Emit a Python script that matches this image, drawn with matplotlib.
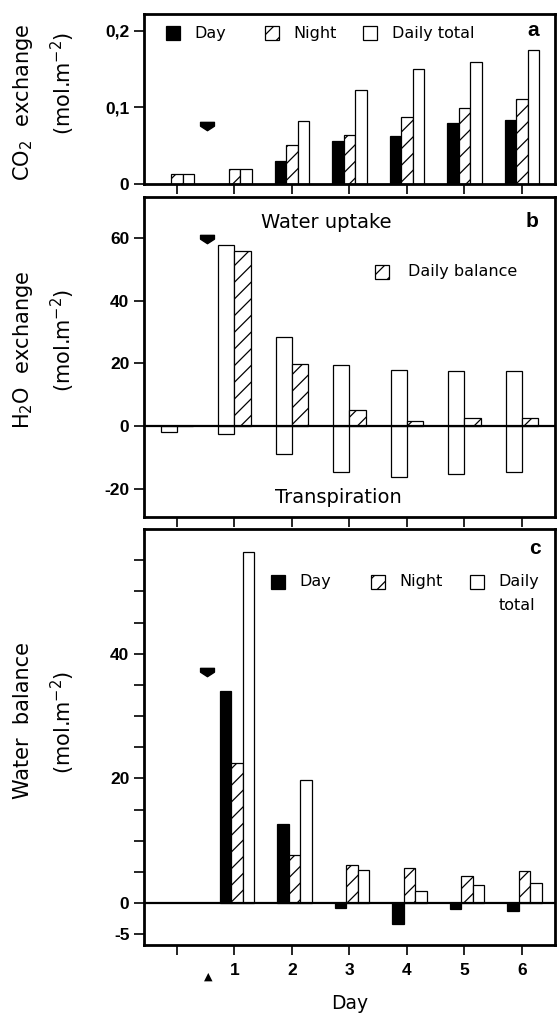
import matplotlib
matplotlib.use('Agg')
import matplotlib.pyplot as plt
import numpy as np
from matplotlib.path import Path
from matplotlib.patches import Rectangle

plt.rcParams['font.family'] = ['Liberation Sans', 'DejaVu Sans']
plt.rcParams['hatch.linewidth'] = 0.9
plt.rcParams['mathtext.default'] = 'regular'

# ---------------- data ----------------
days_a = np.array([0, 1, 2, 3, 4, 5, 6])
co2_day = [0.0, 0.0, 0.030, 0.056, 0.063, 0.080, 0.084]
co2_night = [0.013, 0.019, 0.051, 0.064, 0.087, 0.099, 0.111]
co2_total = [0.013, 0.019, 0.082, 0.123, 0.150, 0.159, 0.175]

days_b = np.array([0, 1, 2, 3, 4, 5, 6])
h2o_uptake = [0.0, 58.0, 28.5, 19.4, 17.8, 17.7, 17.5]
h2o_transp = [-2.0, -2.6, -8.8, -14.6, -16.2, -15.4, -14.6]
h2o_balance = [0.0, 56.0, 19.9, 5.0, 1.6, 2.7, 2.7]

days_c = np.array([1, 2, 3, 4, 5, 6])
wb_day = [34.1, 12.7, -0.7, -3.3, -1.0, -1.3]
wb_night = [22.5, 7.8, 6.2, 5.7, 4.3, 5.1]
wb_total = [56.3, 19.7, 5.4, 1.9, 2.9, 3.2]

event_day = 0.52
event_marks = [0.077, 60.0, 37.3]

day_ticks = [0, 1, 2, 3, 4, 5, 6]
day_labels = ['', '1', '2', '3', '4', '5', '6']

# ---------------- figure ----------------
fig = plt.figure(figsize=(5.57, 10.16), dpi=100)
L, W = 0.2585, 0.7379
ax_a = fig.add_axes([L, 0.8189, W, 0.1673])
ax_b = fig.add_axes([L, 0.4911, W, 0.3150])
ax_c = fig.add_axes([L, 0.0699, W, 0.4094])

arrow_marker = Path([(-1, 0.45), (1, 0.45), (1, -0.1), (0, -0.75), (-1, -0.1), (-1, 0.45)],
                    [Path.MOVETO, Path.LINETO, Path.LINETO, Path.LINETO, Path.LINETO, Path.CLOSEPOLY])

WIDE = ['DejaVu Sans']
TICKFS = 12.5
for ax in (ax_a, ax_b, ax_c):
    ax.set_xlim(-0.574, 6.574)
    for s in ax.spines.values():
        s.set_linewidth(2.0)
    ax.set_xticks(day_ticks)
    ax.set_xticklabels([])
    ax.tick_params(axis='both', direction='out', width=1.2, length=7, labelsize=TICKFS)

edge = dict(edgecolor='black', linewidth=0.9)

def bold_ticks(ax):
    for t in ax.get_yticklabels() + ax.get_xticklabels():
        t.set_fontweight('bold')

def legend_item(ax, x, y, kind, label, h, w=0.034, dx=0.07, fs=11.5):
    if kind == 'day':
        p = Rectangle((x, y - h / 2), w, h, transform=ax.transAxes, facecolor='black', edgecolor='black', lw=0.9)
    elif kind == 'night':
        p = Rectangle((x, y - h / 2), w, h, transform=ax.transAxes, facecolor='white', edgecolor='black', lw=0.9, hatch='//')
    else:
        p = Rectangle((x, y - h / 2), w, h, transform=ax.transAxes, facecolor='white', edgecolor='black', lw=0.9)
    ax.add_patch(p)
    ax.text(x + dx, y, label, transform=ax.transAxes, ha='left', va='center', fontsize=fs, family=WIDE)

# ---- panel a ----
bw = 0.2
ax_a.bar(days_a - bw, co2_day, bw, color='black', **edge)
ax_a.bar(days_a, co2_night, bw, color='white', hatch='//', **edge)
ax_a.bar(days_a + bw, co2_total, bw, color='white', **edge)
ax_a.plot([event_day], [event_marks[0]], marker=arrow_marker, color='black', markersize=10, ls='none')
ax_a.set_ylim(0, 0.222)
ax_a.set_yticks([0, 0.1, 0.2])
ax_a.set_yticklabels(['0', '0,1', '0,2'])
bold_ticks(ax_a)
ha = 0.082
legend_item(ax_a, 0.0535, 0.888, 'day', 'Day', ha)
legend_item(ax_a, 0.294, 0.888, 'night', 'Night', ha)
legend_item(ax_a, 0.533, 0.888, 'total', 'Daily total', ha)
ax_a.text(0.946, 0.905, 'a', transform=ax_a.transAxes, ha='center', va='center', fontsize=15, fontweight='bold')

# ---- panel b ----
bw2 = 0.28
ax_b.bar(days_b - bw2 / 2, h2o_uptake, bw2, color='white', **edge)
ax_b.bar(days_b - bw2 / 2, h2o_transp, bw2, color='white', **edge)
ax_b.bar(days_b + bw2 / 2, h2o_balance, bw2, color='white', hatch='//', **edge)
ax_b.axhline(0, color='black', lw=1.6, zorder=3)
ax_b.plot([event_day], [event_marks[1]], marker=arrow_marker, color='black', markersize=10, ls='none')
ax_b.set_ylim(-29.1, 73.2)
ax_b.set_yticks([-20, 0, 20, 40, 60])
ax_b.set_yticklabels(['-20', '0', '20', '40', '60'])
bold_ticks(ax_b)
ax_b.text(0.443, 0.919, 'Water uptake', transform=ax_b.transAxes, ha='center', va='center', fontsize=14, family=WIDE)
ax_b.text(0.474, 0.0625, 'Transpiration', transform=ax_b.transAxes, ha='center', va='center', fontsize=14, family=WIDE)
ax_b.text(0.944, 0.925, 'b', transform=ax_b.transAxes, ha='center', va='center', fontsize=15, fontweight='bold')
legend_item(ax_b, 0.562, 0.766, 'night', 'Daily balance', 0.044, dx=0.08)

# ---- panel c ----
bw3 = 0.2
ax_c.bar(days_c - 0.16, wb_day, bw3, color='black', **edge)
ax_c.bar(days_c + 0.04, wb_night, bw3, color='white', hatch='//', **edge)
ax_c.bar(days_c + 0.24, wb_total, bw3, color='white', **edge)
ax_c.axhline(0, color='black', lw=1.6, zorder=3)
ax_c.plot([event_day], [event_marks[2]], marker=arrow_marker, color='black', markersize=10, ls='none')
ax_c.set_ylim(-6.7, 60)
ax_c.set_yticks([-5, 0, 20, 40])
ax_c.set_yticklabels(['-5', '0', '20', '40'])
ax_c.set_yticks([5, 10, 15, 25, 30, 35, 45, 50, 55], minor=True)
ax_c.tick_params(axis='y', which='minor', direction='out', width=1.2, length=7)
ax_c.set_xticklabels(day_labels)
ax_c.tick_params(axis='x', which='major', pad=6, labelsize=12.5)
bold_ticks(ax_c)
ax_c.set_xticks([event_day + 0.02], minor=True)
ax_c.set_xticklabels(['\u25B2'], minor=True, fontsize=8, family=WIDE)
ax_c.tick_params(axis='x', which='minor', length=0, pad=19)
ax_c.set_xlabel('Day', fontsize=13.5, labelpad=9, family=WIDE)
hc = 0.034
legend_item(ax_c, 0.309, 0.873, 'day', 'Day', hc)
legend_item(ax_c, 0.552, 0.873, 'night', 'Night', hc)
legend_item(ax_c, 0.793, 0.873, 'total', 'Daily', hc)
ax_c.text(0.863, 0.817, 'total', transform=ax_c.transAxes, ha='left', va='center', fontsize=11.5, family=WIDE)
ax_c.text(0.951, 0.954, 'c', transform=ax_c.transAxes, ha='center', va='center', fontsize=15, fontweight='bold')

# ---- y labels ----
YFS = 15
lab = dict(rotation=90, ha='center', va='center', fontsize=YFS, family=WIDE)
fig.text(0.041, 0.899, 'CO$_2$  exchange', **lab)
fig.text(0.113, 0.918, '(mol.m$^{-2}$)', **lab)
fig.text(0.041, 0.656, 'H$_2$O  exchange', **lab)
fig.text(0.113, 0.665, '(mol.m$^{-2}$)', **lab)
fig.text(0.041, 0.291, 'Water  balance', **lab)
fig.text(0.113, 0.289, '(mol.m$^{-2}$)', **lab)

fig.savefig('out.png', dpi=100)
